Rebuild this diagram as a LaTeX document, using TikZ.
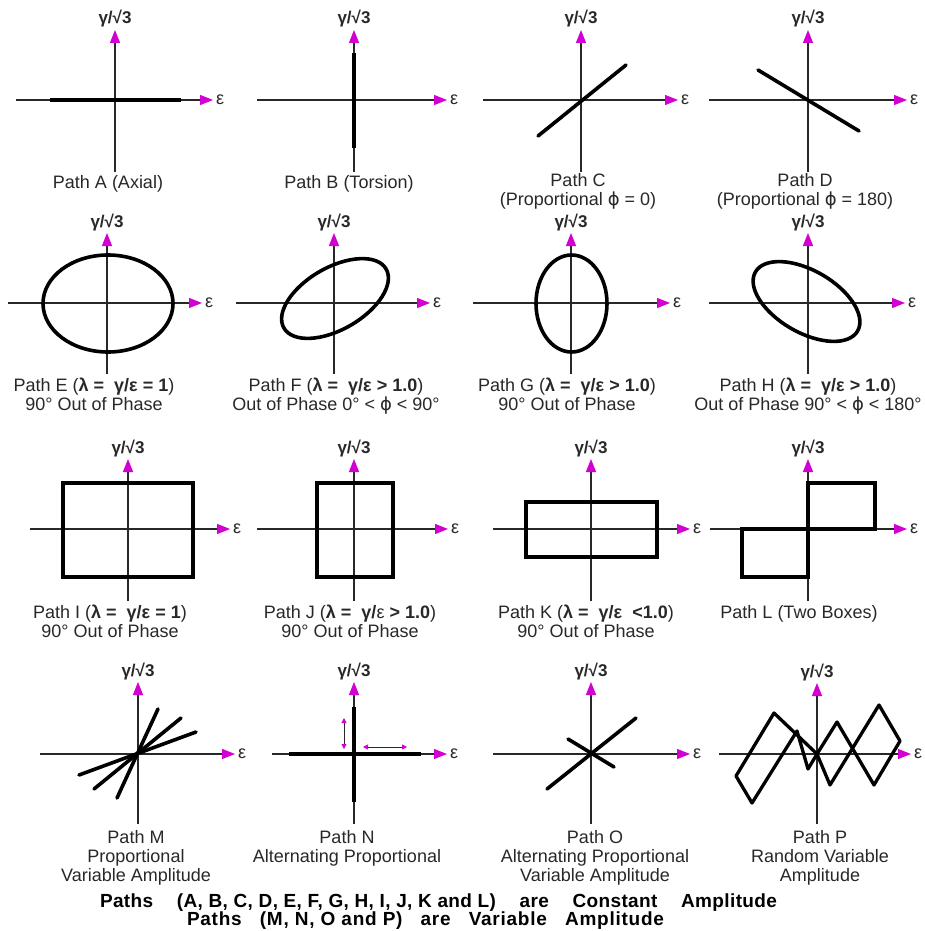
\documentclass[tikz,border=0pt]{standalone}
\usepackage{fontspec}
\setmainfont{Liberation Sans}
\newfontfamily\symfont{DejaVu Sans}
\usepackage{xcolor}
\usetikzlibrary{arrows.meta}
\usetikzlibrary{positioning}
\definecolor{tipmag}{RGB}{210,0,210}
\definecolor{inkgray}{RGB}{40,40,40}

\tikzset{
    axisline/.style={line width=1.2pt, draw=inkgray, -{Triangle[length=13pt,width=10pt,color=tipmag]}},
    loadline/.style={line width=3.6pt, draw=black},
    ylab/.style={inner sep=0pt, font=\fontsize{17}{17}\selectfont\bfseries, text=inkgray},
    xlab/.style={inner sep=0pt, font=\fontsize{18}{18}\selectfont, text=inkgray},
    pathcap/.style={inner sep=0pt, align=center, anchor=north, font=\fontsize{18}{19}\selectfont, text=inkgray},
    footer/.style={inner sep=0pt, font=\fontsize{19}{19}\selectfont\bfseries, text=black},
    smallarrow/.style={line width=0.8pt, draw=inkgray, {Triangle[length=5pt,width=5pt,color=tipmag]}-{Triangle[length=5pt,width=5pt,color=tipmag]}},
}

\newcommand{\panelaxes}[7]{%
    \coordinate (#1o) at (#2,#3);
    \coordinate (#1w) at (#4,#3);
    \coordinate (#1e) at (#5,#3);
    \coordinate (#1n) at (#2,#6);
    \coordinate (#1s) at (#2,#7);
    \draw[axisline] (#1w) -- (#1e);
    \draw[axisline] (#1s) -- (#1n);
    \node[ylab, anchor=base] (#1ylab) at ([yshift=6pt]#1n) {γ/√3};
    \node[xlab, right=3pt of #1e] (#1xlab) {ε};
}

\begin{document}
\begin{tikzpicture}[x=1pt, y=-1pt]
        \useasboundingbox[fill=white] (0,0) rectangle (925,931);

        \foreach \p/\ox/\oy/\xl/\xr/\yt/\yb in {
            A/115/100/16/213/30/172, B/354/100/257/447/30/172,
            C/581/100/483/678/30/172, D/808/100/709/907/30/172,
            E/107/303/8/202/233/374, F/334/303/236/430/233/374,
            G/571/303/473/670/233/374, H/808/303/709/905/233/374,
            I/128/529/30/230/459/601, J/354/529/257/448/459/601,
            K/591/529/493/690/459/601, L/808/529/710/907/459/601,
            M/138/754/40/235/682/824, N/354/754/272/447/682/824,
            O/591/754/493/690/682/824, P/817/754/719/911/683/824} {
            \panelaxes{\p}{\ox}{\oy}{\xl}{\xr}{\yt}{\yb}
        }

        % constant amplitude paths
        \draw[loadline] (50,100) -- (181,100);
        \draw[loadline] (354,53) -- (354,148);
        \draw[loadline, line cap=round] (538,136) -- (626,65);
        \draw[loadline, line cap=round] (758,70) -- (859,131);

        \draw[loadline] (108,303.5) ellipse [x radius=65pt, y radius=48.5pt];
        \draw[loadline, rotate around={30:(335,298.5)}] (335,298.5) ellipse [x radius=59pt, y radius=31pt];
        \draw[loadline] (571.5,303.5) ellipse [x radius=35.5pt, y radius=48.5pt];
        \draw[loadline, rotate around={-30:(806.5,301.5)}] (806.5,301.5) ellipse [x radius=59pt, y radius=31pt];

        \draw[loadline] (63,483) rectangle (193,577);
        \draw[loadline] (317,483) rectangle (393,577);
        \draw[loadline] (526,502) rectangle (657,557);
        \draw[loadline] (Lo) rectangle (875,483);
        \draw[loadline] (Lo) rectangle (742,577);

        % variable amplitude paths
        \draw[loadline, line cap=round] (117,798) -- (158,709);
        \draw[loadline, line cap=round] (94,789) -- (181,718);
        \draw[loadline, line cap=round] (79,775) -- (196,732);

        \draw[loadline] (289,754) -- (421,754);
        \draw[loadline] (354,707) -- (354,802);
        \coordinate (nv1) at (344,718);
        \coordinate (nv2) at (344,749);
        \coordinate (nh1) at (363,747);
        \coordinate (nh2) at (407,747);
        \draw[smallarrow] (nv1) -- (nv2);
        \draw[smallarrow] (nh1) -- (nh2);

        \draw[loadline, line cap=round] (547,789) -- (636,718);
        \draw[loadline, line cap=round] (568,739) -- (614,767);

        \draw[loadline, line width=3.3pt, line join=round] (752,803) -- (736,776) -- (774,713) -- (Po)
            -- (837,722) -- (874,785) -- (900,741) -- (879,705) -- (830,785) -- (Po)
            -- (808,769) -- (797,731) -- cycle;

        % captions
        \node[pathcap] (capA) at (108,175) {Path A (Axial)};
        \node[pathcap] (capB) at (349,175) {Path B (Torsion)};
        \node[pathcap] (capC) at (578,173) {Path C\\(Proportional {\symfont ϕ} = 0)};
        \node[pathcap] (capD) at (805,173) {Path D\\(Proportional {\symfont ϕ} = 180)};

        \node[pathcap] (capE) at (94,378) {Path E ({\bfseries λ =\ \ γ/ε = 1})\\90° Out of Phase};
        \node[pathcap] (capF) at (336,378) {Path F ({\bfseries λ =\ \ γ/ε > 1.0})\\Out of Phase 0° < {\symfont ϕ} < 90°};
        \node[pathcap] (capG) at (567,378) {Path G ({\bfseries λ =\ \ γ/ε > 1.0})\\90° Out of Phase};
        \node[pathcap] (capH) at (808,378) {Path H ({\bfseries λ =\ \ γ/ε > 1.0})\\Out of Phase 90° < {\symfont ϕ} < 180°};

        \node[pathcap] (capI) at (110,605) {Path I ({\bfseries λ =\ \ γ/ε = 1})\\90° Out of Phase};
        \node[pathcap] (capJ) at (350,605) {Path J ({\bfseries λ =\ \ γ/}ε{\bfseries\ > 1.0})\\90° Out of Phase};
        \node[pathcap] (capK) at (586,605) {Path K ({\bfseries λ =\ \ γ/ε\ \ <1.0})\\90° Out of Phase};
        \node[pathcap] (capL) at (799,605) {Path L (Two Boxes)};

        \node[pathcap] (capM) at (136,830) {Path M\\Proportional\\Variable Amplitude};
        \node[pathcap] (capN) at (347,830) {Path N\\Alternating Proportional};
        \node[pathcap] (capO) at (595,830) {Path O\\Alternating Proportional\\Variable Amplitude};
        \node[pathcap] (capP) at (820,830) {Path P\\Random Variable\\Amplitude};

        \node[footer] (foot1) at (438.5,903) {\addfontfeature{LetterSpace=2}\makebox[677pt]{Paths\hfill(A, B, C, D, E, F, G, H, I, J, K and L)\hfill are\hfill Constant\hfill Amplitude}};
        \node[footer] (foot2) at (425.5,921) {\addfontfeature{LetterSpace=4}\makebox[477pt]{Paths\hfill(M, N, O and P)\hfill are\hfill Variable\hfill Amplitude}};
\end{tikzpicture}
\end{document}
